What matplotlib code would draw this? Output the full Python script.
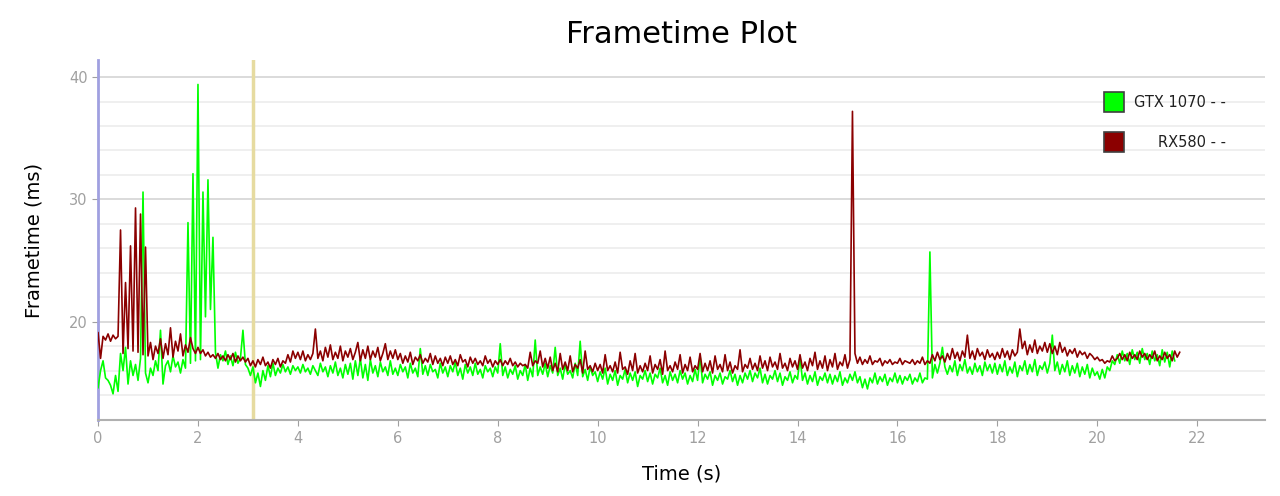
import matplotlib.pyplot as plt
import numpy as np

# Frametime samples (ms), one row per second, every 0.05 s
sample_step = 0.05

gtx_ms = [
    14.6, 16.0, 16.8, 15.4, 15.2, 14.8, 14.1, 15.6, 14.3, 17.4, 16.0, 17.9, 14.9, 16.8, 15.6, 16.5, 15.2, 17.0, 30.6, 15.8,
    15.0, 16.2, 15.6, 16.8, 16.0, 19.3, 14.9, 16.4, 16.8, 15.9, 17.2, 16.3, 16.7, 15.8, 16.9, 16.2, 28.1, 16.6, 32.1, 16.8,
    39.4, 16.9, 30.6, 20.4, 31.6, 21.0, 26.9, 17.5, 16.2, 17.3, 16.8, 17.6, 16.5, 17.2, 16.4, 17.5, 16.6, 17.0, 19.3, 16.5,
    16.2, 15.6, 16.3, 15.0, 15.8, 14.7, 16.0, 15.2, 16.4, 15.5, 16.6, 15.6, 16.2, 15.8, 16.5, 15.9, 16.3, 15.7, 16.4, 16.0,
    16.3, 15.8, 16.5, 15.9, 16.2, 15.7, 16.4, 16.0, 15.6, 16.6, 15.9, 16.3, 15.5, 16.4, 15.8, 16.7, 15.6, 16.2, 15.4, 16.5,
    15.7, 16.6, 15.3, 16.8, 15.6, 17.0, 15.4, 16.5, 15.2, 16.9, 15.8, 16.4, 15.5, 16.7, 15.9, 16.3, 15.6, 16.8, 15.7, 16.2,
    15.6, 16.5, 15.9, 16.3, 15.4, 16.6, 15.8, 16.2, 15.5, 17.8, 15.7, 16.4, 15.6, 16.5, 15.9, 16.1, 15.4, 16.6, 15.8, 16.3,
    15.5, 16.4, 15.9, 16.7, 15.6, 16.2, 15.3, 16.5, 15.8, 16.3, 15.6, 16.6, 15.7, 16.1, 15.4, 16.4, 15.9, 16.2, 15.5, 16.3,
    15.8, 18.2, 15.6, 16.3, 15.4, 16.1, 15.7, 16.4, 15.3, 16.0, 15.6, 16.5, 15.2, 16.2, 15.5, 18.5, 15.6, 16.3, 15.7, 16.6,
    15.5, 16.4, 15.8, 17.9, 15.6, 16.2, 15.3, 16.5, 15.7, 16.0, 15.4, 16.6, 15.6, 18.4, 15.5, 16.1, 15.2, 16.3, 15.6, 15.9,
    15.1, 15.9, 15.3, 16.2, 14.9, 15.7, 15.2, 16.0, 14.8, 15.6, 15.3, 16.1, 15.0, 15.8, 15.2, 15.9, 14.7, 15.6, 15.3, 16.0,
    15.1, 15.8, 14.9, 15.7, 15.4, 16.2, 15.0, 15.6, 14.8, 15.9, 15.2, 15.7, 15.0, 16.0, 15.3, 15.8, 14.9, 15.6, 15.1, 16.1,
    15.2, 17.2, 15.0, 15.7, 15.3, 15.9, 14.8, 15.6, 15.2, 15.8, 14.9, 15.5, 15.3, 16.0, 15.1, 15.7, 14.8, 15.6, 15.0, 15.8,
    15.3, 16.0, 15.1, 15.8, 15.4, 16.2, 15.0, 15.7, 14.9, 15.6, 15.3, 16.0, 15.1, 15.8, 14.8, 15.5, 15.2, 15.9, 15.0, 15.6,
    15.3, 17.1, 15.2, 15.8, 14.9, 15.6, 15.1, 15.9, 14.8, 15.5, 15.2, 15.8, 15.0, 15.7, 14.9, 15.6, 15.1, 15.9, 14.8, 15.4,
    15.0, 15.7, 15.2, 15.9, 15.0, 15.5, 14.6, 15.3, 14.5, 15.4, 15.0, 15.8, 14.9, 15.5, 15.1, 15.7, 14.8, 15.4, 15.1, 15.8,
    15.0, 15.6, 14.9, 15.5, 15.2, 15.7, 14.9, 15.4, 15.1, 15.8, 15.0, 15.4, 15.3, 25.7, 15.4, 16.5, 15.8, 16.6, 17.9, 16.3,
    15.7, 16.4, 15.9, 16.8, 15.6, 16.5, 16.0, 16.9, 15.8, 16.3, 15.7, 16.6, 15.9, 16.4, 15.6, 16.7, 16.0, 16.5, 15.8, 16.6,
    15.7, 16.5, 15.9, 16.8, 15.6, 16.3, 15.8, 16.7, 15.5, 16.4, 16.0, 16.8, 15.7, 16.5, 15.9, 16.9, 15.6, 16.4, 16.1, 16.7,
    15.8, 16.6, 18.9, 16.0, 16.7, 15.7, 16.5, 15.9, 16.8, 15.6, 16.4, 15.8, 16.6, 15.5, 16.3, 15.7, 16.5, 15.4, 16.2, 15.6,
    15.9, 15.3, 16.1, 15.4, 16.3, 16.0, 16.8, 16.5, 17.3, 16.6, 17.6, 16.8, 17.4, 16.5, 17.7, 16.9, 17.5, 16.6, 17.8, 16.9,
    17.4, 16.5, 17.6, 16.8, 17.3, 16.4, 17.7, 16.7, 17.5, 16.3, 17.6, 16.8,
]

rx_ms = [
    19.1, 17.0, 18.8, 18.5, 19.0, 18.4, 18.9, 18.6, 18.8, 27.5, 17.4, 23.2, 17.8, 26.2, 17.6, 29.3, 17.5, 28.8, 17.3, 26.1,
    17.2, 18.3, 16.9, 18.0, 17.4, 18.6, 17.0, 18.2, 17.3, 19.5, 17.1, 18.4, 17.6, 19.0, 17.2, 18.1, 17.5, 18.7, 17.8, 17.4,
    17.9, 17.4, 17.7, 17.2, 17.5, 17.1, 17.3, 17.0, 17.4, 16.9, 17.2, 16.8, 17.3, 16.9, 17.4, 16.7, 17.2, 16.8, 17.1, 16.7,
    17.0, 16.4, 16.8, 16.3, 16.9, 16.5, 17.1, 16.4, 16.7, 16.2, 16.9, 16.5, 17.0, 16.3, 16.8, 16.6, 17.3, 16.7, 17.6, 17.0,
    17.5, 16.9, 17.6, 16.8, 17.3, 16.9, 17.4, 19.4, 17.0, 17.6, 16.8, 17.9, 17.1, 18.1, 16.9, 17.5, 17.0, 18.0, 16.8, 17.6,
    17.1, 17.8, 16.9, 17.5, 18.3, 16.8, 17.7, 17.0, 18.0, 16.9, 17.6, 17.1, 17.9, 16.8, 17.4, 18.2, 16.9, 17.6, 17.0, 17.7,
    16.9, 17.4, 16.6, 17.2, 16.7, 17.5, 16.5, 17.1, 16.8, 17.3, 16.6, 17.0, 16.7, 17.4, 16.5, 17.2, 16.6, 17.0, 16.4, 17.1,
    16.6, 17.2, 16.5, 16.9, 16.4, 17.3, 16.7, 16.9, 16.3, 17.1, 16.6, 17.0, 16.5, 16.8, 16.4, 17.2, 16.6, 16.9, 16.3, 16.8,
    16.5, 16.9, 16.4, 16.8, 16.5, 17.0, 16.4, 16.7, 16.3, 16.6, 16.4, 16.5, 16.2, 17.5, 16.4, 16.8, 16.6, 17.6, 16.3, 17.0,
    16.2, 17.1, 16.0, 16.6, 15.9, 17.4, 16.1, 16.7, 16.0, 17.2, 15.9, 16.5, 16.2, 16.9, 15.8, 17.6, 16.1, 16.4, 15.9, 16.6,
    16.0, 16.5, 15.8, 17.3, 16.0, 16.4, 15.9, 16.7, 15.8, 17.5, 16.1, 16.3, 15.7, 16.8, 16.0, 17.4, 15.8, 16.4, 15.9, 16.6,
    16.0, 17.2, 15.8, 16.5, 16.1, 16.9, 15.7, 17.6, 16.0, 16.4, 15.9, 16.7, 16.1, 17.3, 15.8, 16.5, 16.0, 17.1, 15.9, 16.4,
    16.1, 17.4, 15.9, 16.6, 16.0, 16.8, 15.8, 17.2, 16.1, 16.5, 15.9, 17.3, 16.0, 16.7, 15.8, 16.4, 16.1, 17.7, 15.9, 16.5,
    16.2, 17.0, 16.1, 16.6, 16.0, 17.2, 16.2, 16.8, 16.0, 17.1, 16.3, 16.7, 16.1, 17.4, 16.2, 16.6, 16.0, 17.0, 16.3, 16.8,
    16.1, 17.3, 16.2, 16.7, 16.0, 17.0, 16.4, 17.5, 16.1, 16.8, 16.2, 17.2, 16.0, 16.9, 16.3, 17.4, 16.1, 16.7, 16.4, 17.3,
    16.2, 16.9, 37.2, 17.4, 16.6, 17.1, 16.5, 16.9, 16.6, 17.2, 16.5, 16.8, 16.7, 17.0, 16.4, 16.8, 16.6, 16.9, 16.5, 16.7,
    16.6, 17.0, 16.5, 16.8, 16.7, 16.6, 16.9, 16.5, 16.8, 16.6, 17.1, 16.5, 16.8, 16.6, 17.3, 16.8, 17.5, 16.9, 17.2, 16.7,
    17.4, 16.9, 17.8, 17.0, 17.5, 16.8, 17.6, 17.1, 18.9, 17.0, 17.6, 16.9, 17.8, 17.2, 17.5, 16.9, 17.7, 17.1, 17.4, 16.9,
    17.5, 17.0, 17.8, 17.1, 17.6, 16.9, 17.7, 17.2, 17.5, 19.4, 17.8, 18.4, 17.3, 18.1, 17.5, 18.5, 17.4, 18.0, 17.6, 18.3,
    17.5, 18.2, 17.4, 18.0, 17.3, 18.3, 17.5, 17.9, 17.2, 17.7, 17.4, 17.8, 17.1, 17.6, 17.3, 17.5, 17.0, 17.4, 17.2, 16.9,
    17.1, 16.8, 16.9, 16.6, 16.8, 16.7, 17.2, 16.8, 17.0, 17.4, 16.9, 17.3, 16.8, 17.5, 17.0, 17.3, 16.9, 17.6, 17.1, 17.4,
    16.9, 17.3, 17.0, 17.6, 16.8, 17.2, 16.9, 17.5, 17.0, 17.3, 16.8, 17.6, 17.1, 17.5,
]

series_names = ["GTX 1070 - -", "RX580 - -"]
series_colors = ["#00ff00", "#8b0000"]
cursor_t = 3.1  # the highlighted time marker

gtx_t = np.arange(len(gtx_ms)) * sample_step
rx_t = np.arange(len(rx_ms)) * sample_step

fig = plt.figure(figsize=(12.8, 4.96), dpi=100)
ax = fig.add_axes([0.0766, 0.153, 0.9114, 0.726])

ax.plot(gtx_t, gtx_ms, color=series_colors[0], lw=1.2, zorder=3)
ax.plot(rx_t, rx_ms, color=series_colors[1], lw=1.2, zorder=4)
ax.axvline(cursor_t, color="#e6dba0", lw=2.5, zorder=2)

ax.set_xlim(0, 23.35)
ax.set_ylim(11.95, 41.4)

# grid: light lines every 2 ms, darker on the labelled ones
ax.set_yticks([20, 30, 40])
ax.set_yticks(np.arange(12, 42, 2), minor=True)
ax.grid(axis="y", which="minor", color="#ececec", lw=1.2)
ax.grid(axis="y", which="major", color="#d4d4d4", lw=1.2)
ax.set_axisbelow(True)
ax.set_xticks(np.arange(0, 23, 2))

ax.tick_params(axis="both", which="both", colors="#a0a0a0", labelsize=10.5, length=4)
ax.tick_params(axis="y", which="minor", length=0)
for s in ["top", "right"]:
    ax.spines[s].set_visible(False)
ax.spines["left"].set_color("#a0a0e0")
ax.spines["left"].set_linewidth(2)
ax.spines["bottom"].set_color("#b0b0b0")
ax.spines["bottom"].set_linewidth(1.5)

ax.set_title("Frametime Plot", fontsize=22, pad=12)
ax.set_xlabel("Time (s)", fontsize=14, labelpad=14)
ax.set_ylabel("Frametime (ms)", fontsize=14, labelpad=18)

# legend drawn by hand: square swatch on the left, label right-aligned
for i, (name, col) in enumerate(zip(series_names, series_colors)):
    y = 0.883 - i * 0.111
    ax.plot([0.871], [y], marker="s", markersize=14, markerfacecolor=col,
            markeredgecolor="#404040", markeredgewidth=1.2, ls="none",
            transform=ax.transAxes, clip_on=False, zorder=6)
    ax.text(0.967, y, name, transform=ax.transAxes, ha="right", va="center",
            fontsize=10.5, color="#202020", zorder=6)

fig.savefig("out.png", dpi=100)
